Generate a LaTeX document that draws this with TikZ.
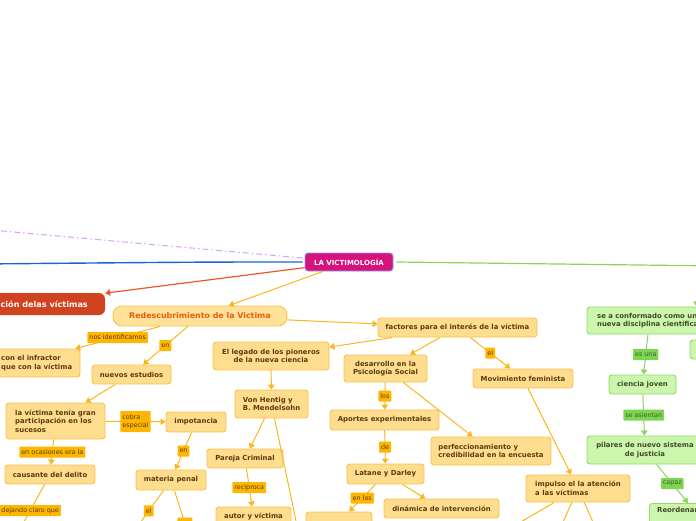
\documentclass[tikz,border=0pt]{standalone}
\usepackage{fontspec}
\setmainfont{DejaVu Sans}
\usetikzlibrary{arrows.meta,calc}
\definecolor{yfill}{HTML}{FEDD8E}
\definecolor{yfill2}{HTML}{FFE29A}
\definecolor{ybord}{HTML}{F8C24A}
\definecolor{yline}{HTML}{F9B71E}
\definecolor{ytext}{HTML}{5C3A0E}
\definecolor{lfill}{HTML}{FFB600}
\definecolor{ltext}{HTML}{5A3A00}
\definecolor{gfill}{HTML}{CCF6AE}
\definecolor{gbord}{HTML}{8FDB66}
\definecolor{gline}{HTML}{88D45E}
\definecolor{gtext}{HTML}{3E4A22}
\definecolor{glfill}{HTML}{7ED553}
\definecolor{gltext}{HTML}{3A6020}
\definecolor{rfill}{HTML}{D1421F}
\definecolor{rline}{HTML}{EC5530}
\definecolor{rootfill}{HTML}{D5127D}
\definecolor{rootbord}{HTML}{8C9CE6}
\definecolor{purp}{HTML}{DA9EF2}
\definecolor{blu}{HTML}{1D64D3}
\definecolor{redtext}{HTML}{EE5A16}
\begin{document}
\begin{tikzpicture}[x=1pt,y=-1pt,
  ybox/.style={draw=ybord, fill=yfill, line width=0.9pt, rounded corners=3pt, text=ytext,
    font=\fontsize{6.9}{8.6}\selectfont\bfseries, inner sep=0pt, align=center},
  gbox/.style={ybox, draw=gbord, fill=gfill, text=gtext},
  lab/.style={fill=lfill, text=ltext, font=\fontsize{6.4}{7.4}\selectfont, inner xsep=2pt,
    inner ysep=0pt, minimum height=11pt, rounded corners=0.8pt},
  glab/.style={lab, fill=glfill, text=gltext},
  tip/.style={-{Triangle[length=5pt,width=6.5pt]}},
  conn/.style={draw=yline, line width=1pt, tip},
  gconn/.style={draw=gline, line width=1pt, tip}]
\useasboundingbox (0,0) rectangle (696,520);
\clip (0,0) rectangle (696,520);

% ---------- root ----------
\node[draw=rootbord, fill=rootfill, line width=0.9pt, rounded corners=3pt, text=white,
  font=\fontsize{7}{8}\selectfont\bfseries, minimum width=88pt, minimum height=18pt, inner sep=0pt]
  (root) at (349,262) {LA VICTIMOLOGÍA};

\coordinate (pfar) at (-20,229);
\coordinate (bfar) at (-20,264);
\coordinate (gfar) at (720,266);
\draw[purp, line width=1pt, dash pattern=on 6pt off 3pt on 1.5pt off 3pt]
  ($(root.west)+(-2,-4)$) -- (pfar);
\draw[blu, line width=1.4pt] ($(root.west)+(-2,0)$) .. controls (200,262) .. (bfar);
\draw[gline, line width=1.2pt] ($(root.east)+(3,0)$) -- (gfar);

% ---------- red node ----------
\node[fill=rfill, rounded corners=6pt, text=white, font=\fontsize{8.1}{9}\selectfont\bfseries,
  minimum width=170pt, minimum height=22pt, inner sep=0pt] (red) at (20,304) {};
\node[anchor=east, text=white, font=\fontsize{8.1}{9}\selectfont\bfseries, inner sep=0pt]
  (redt) at (88,304.5) {ción delas víctimas};
\draw[rline, line width=1.2pt, tip] (root) -- (red);

% ---------- yellow branch ----------
\node[draw=ybord, fill=yfill2, line width=0.9pt, rounded corners=9pt, text=redtext,
  font=\fontsize{7.9}{9}\selectfont\bfseries, minimum width=174pt, minimum height=20pt, inner sep=0pt]
  (redesc) at (200,316) {Redescubrimiento de la Victima};
\draw[conn] (root) -- (redesc);

\node[ybox, minimum width=159pt, minimum height=19pt] (fact) at (457.5,327.5) {factores para el interés de la víctima};
\node[ybox, minimum width=116pt, minimum height=28pt] (leg) at (271,356) {El legado de los pioneros\\de la nueva ciencia};
\node[ybox, minimum width=83pt, minimum height=27pt] (desa) at (385.5,368.5) {desarrollo en la\\Psicología Social};
\node[ybox, minimum width=100pt, minimum height=19pt] (fem) at (523,378.5) {Movimiento feminista};
\node[ybox, minimum width=120pt, minimum height=28pt] (infr) at (20,363) {};
\node[anchor=west, text=ytext, font=\fontsize{6.9}{8.6}\selectfont\bfseries, inner sep=0pt, align=left]
  (infrt) at (1,363) {con el infractor\\que con la víctima};
\node[ybox, minimum width=79pt, minimum height=19pt] (nuev) at (131.5,374.5) {nuevos estudios};
\node[ybox, minimum width=73pt, minimum height=28pt, align=left] (von) at (271.5,404) {Von Hentig y\\B. Mendelsohn};
\node[ybox, minimum width=109pt, minimum height=20pt] (apor) at (384.5,420) {Aportes experimentales};
\node[ybox, minimum width=120pt, minimum height=28pt, align=left] (perf) at (491,451) {perfeccionamiento y\\credibilidad en la encuesta};
\node[ybox, minimum width=99pt, minimum height=36pt, align=left] (vict) at (55.5,421) {la víctima tenía gran\\participación en los\\sucesos};
\node[ybox, minimum width=60pt, minimum height=20pt] (impo) at (196,422) {impotancia};
\node[ybox, minimum width=90pt, minimum height=19pt] (caus) at (50,474.5) {causante del delito};
\node[ybox, minimum width=70pt, minimum height=20pt] (mat) at (171,480) {materia penal};
\node[ybox, minimum width=76pt, minimum height=19pt] (par) at (245,458.5) {Pareja Criminal};
\node[ybox, minimum width=75pt, minimum height=18pt] (aut) at (253.5,516) {autor y víctima};
\node[ybox, minimum width=77pt, minimum height=20pt] (lat) at (385.5,474) {Latane y Darley};
\node[ybox, minimum width=115pt, minimum height=19pt] (din) at (441.5,508.5) {dinámica de intervención};
\node[ybox, minimum width=66pt, minimum height=20pt] (b18) at (339,522) {};
\node[ybox, minimum width=104pt, minimum height=27pt, align=left] (imp) at (578,488.5) {impulso el la atención\\a las víctimas};

\coordinate (c1) at (14,540);
\coordinate (c2) at (130,537);
\coordinate (c3) at (192,545);
\coordinate (c4) at (300,540);
\coordinate (c5) at (490,540);
\coordinate (c6) at (555,540);
\coordinate (c7) at (601,540);

\draw[conn] (redesc) -- (fact);
\draw[conn] (fact) -- (leg);
\draw[conn] (fact) -- (desa);
\draw[conn] (fact) -- node[lab, pos=0.5] (l1) {el} (fem);
\draw[conn] (redesc) -- node[lab, pos=0.5] (l2) {nos identificamos} (infr);
\draw[conn] (redesc) -- node[lab, pos=0.5] (l3) {en} (nuev);
\draw[conn] (leg) -- (von);
\draw[conn] (desa) -- node[lab, pos=0.5] (l4) {los} (apor);
\draw[conn] (desa) -- (perf);
\draw[conn] (fem) -- (imp);
\draw[conn] (nuev) -- (vict);
\draw[conn] (vict) -- node[lab, pos=0.5, align=left, minimum height=21pt] (l5) {cobra\\especial} (impo);
\draw[conn] (vict) -- node[lab, pos=0.5] (l6) {en ocasiones era la} (caus);
\draw[conn] (impo) -- node[lab, pos=0.5] (l7) {en} (mat);
\draw[conn] (von) -- (par);
\draw[conn] (par) -- node[lab, pos=0.5] (l8) {reciproca} (aut);
\draw[conn] (apor) -- node[lab, pos=0.5] (l9) {de} (lat);
\draw[conn] (lat) -- node[lab, pos=0.5] (l10) {en los} (b18);
\draw[conn] (lat) -- (din);
\draw[conn] (caus) -- node[lab, pos=0.47] (l11) {dejando claro que} (c1);
\draw[conn] (mat) -- node[lab, pos=0.44] (l12) {el} (c2);
\draw[conn] (mat) -- node[lab, pos=0.6, minimum width=15pt] (l13) {} (c3);
\draw[conn] (von) -- (c4);
\draw[conn] (imp) -- (c5);
\draw[conn] (imp) -- (c6);
\draw[conn] (imp) -- (c7);

% ---------- green branch ----------
\node[gbox, minimum width=125pt, minimum height=27pt, align=left] (sec) at (649.5,320.5) {se a conformado como una\\nueva disciplina científica};
\node[gbox, minimum width=30pt, minimum height=19pt] (gsm) at (705,349.5) {};
\node[gbox, minimum width=67pt, minimum height=19pt] (cj) at (642.5,384.5) {ciencia joven};
\node[gbox, minimum width=116pt, minimum height=28pt] (pil) at (645,450) {pilares de nuevo sistema\\de justicia};
\node[gbox, minimum width=102pt, minimum height=30pt, anchor=north west] (reo) at (649,503) {};
\node[anchor=west, text=gtext, font=\fontsize{6.9}{8.6}\selectfont\bfseries, inner sep=0pt]
  (reot) at (657,510) {Reordenar};
\coordinate (g0) at (700,240);
\draw[gconn] (g0) -- ($(sec.north east)+(-16,0)$);
\draw[gconn] (sec) -- node[glab, pos=0.5] (gl1) {es una} (cj);
\draw[gconn] (cj) -- node[glab, pos=0.5] (gl2) {se asientan} (pil);
\draw[gconn] (pil) -- node[glab, pos=0.5] (gl3) {capaz} (reo);
\end{tikzpicture}
\end{document}
